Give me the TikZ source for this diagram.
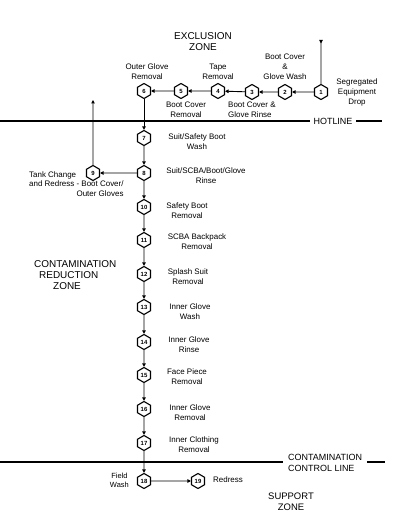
\documentclass[tikz,border=0pt]{standalone}
\usepackage{fontspec}
\setmainfont{Liberation Sans}
\usetikzlibrary{shapes.geometric,arrows.meta}
\begin{document}
\begin{tikzpicture}[x=1bp,y=-1bp,
  hexn/.style={draw,line width=1.1bp,regular polygon,regular polygon sides=6,shape border rotate=30,minimum size=15bp,inner sep=0pt,font=\fontsize{6}{7}\selectfont\bfseries},
  lab/.style={align=center,font=\fontsize{8}{10}\selectfont,inner sep=0pt},
  zone/.style={align=center,font=\fontsize{10}{11}\selectfont,inner sep=0pt},
  flow/.style={line width=0.9bp,-{Triangle[length=3.5bp,width=3.5bp]}},
  bar/.style={line width=1.6bp}]
\useasboundingbox[fill=white] (0,0) rectangle (400,520);
% nodes
\node[hexn] (n1) at (321,92) {1};
\node[hexn] (n2) at (285,92) {2};
\node[hexn] (n3) at (252,92) {3};
\node[hexn] (n4) at (218,91) {4};
\node[hexn] (n5) at (181,91) {5};
\node[hexn] (n6) at (144,91) {6};
\node[hexn] (n7) at (144,138) {7};
\node[hexn] (n8) at (144,173) {8};
\node[hexn] (n9) at (93,173) {9};
\node[hexn] (n10) at (144,207) {10};
\node[hexn] (n11) at (144,240) {11};
\node[hexn] (n12) at (144,274) {12};
\node[hexn] (n13) at (144,307) {13};
\node[hexn] (n14) at (144,342) {14};
\node[hexn] (n15) at (144,375) {15};
\node[hexn] (n16) at (144,409) {16};
\node[hexn] (n17) at (144,443) {17};
\node[hexn] (n18) at (144,481) {18};
\node[hexn] (n19) at (198,481) {19};
\coordinate (entry) at (321,40);
\coordinate (exit9) at (93,100);
% zone lines
\coordinate (hl0) at (0,121);
\coordinate (hl1) at (310,121);
\coordinate (hl2) at (356,121);
\coordinate (hl3) at (382,121);
\coordinate (cl0) at (0,462);
\coordinate (cl1) at (283,462);
\coordinate (cl2) at (367,462);
\coordinate (cl3) at (385,462);
\draw[bar] (hl0) -- (hl1);
\draw[bar] (hl2) -- (hl3);
\draw[bar] (cl0) -- (cl1);
\draw[bar] (cl2) -- (cl3);
% connectors
\draw[line width=0.9bp,{Triangle[reversed,length=3.5bp,width=3.5bp]}-] (entry) -- (n1);
\draw[flow] (n1) -- (n2);
\draw[flow] (n2) -- (n3);
\draw[flow] (n3) -- (n4);
\draw[flow] (n4) -- (n5);
\draw[flow] (n5) -- (n6);
\draw[flow] (n6) -- (n7);
\draw[flow] (n7) -- (n8);
\draw[flow] (n8) -- (n9);
\draw[flow] (n9) -- (exit9);
\draw[flow] (n8) -- (n10);
\draw[flow] (n10) -- (n11);
\draw[flow] (n11) -- (n12);
\draw[flow] (n12) -- (n13);
\draw[flow] (n13) -- (n14);
\draw[flow] (n14) -- (n15);
\draw[flow] (n15) -- (n16);
\draw[flow] (n16) -- (n17);
\draw[flow] (n17) -- (n18);
\draw[flow] (n18) -- (n19);
% labels
\node[zone] (tEx) at (203,41.5) {EXCLUSION\\ZONE};
\node[lab] (t2) at (285,67) {Boot Cover\\\&\\Glove Wash};
\node[lab] (t1) at (357,92) {Segregated\\Equipment\\Drop};
\node[lab] (t4) at (218,72) {Tape\\Removal};
\node[lab] (t6) at (147,72) {Outer Glove\\Removal};
\node[lab] (t5) at (186,110) {Boot Cover\\Removal};
\node[lab,align=left,anchor=west] (t3) at (228,110) {Boot Cover \&\\Glove Rinse};
\node[font=\fontsize{9}{10}\selectfont,inner sep=0pt] (tHot) at (333,121) {HOTLINE};
\node[lab] (t7) at (197,142) {Suit/Safety Boot\\Wash};
\node[lab] (t8) at (206,175.5) {Suit/SCBA/Boot/Glove\\Rinse};
\node[lab,anchor=west] (t9) at (29,185) {\begin{tabular}{@{}l@{}}Tank Change\\and Redress - Boot Cover/\\\multicolumn{1}{@{}r@{}}{Outer Gloves}\end{tabular}};
\node[lab] (t10) at (187,211) {Safety Boot\\Removal};
\node[lab] (t11) at (197,241.5) {SCBA Backpack\\Removal};
\node[lab] (t12) at (188,276.5) {Splash Suit\\Removal};
\node[lab] (t13) at (190,311.5) {Inner Glove\\Wash};
\node[lab] (t14) at (189,345) {Inner Glove\\Rinse};
\node[lab] (t15) at (187,377) {Face Piece\\Removal};
\node[lab] (t16) at (190,413) {Inner Glove\\Removal};
\node[lab] (t17) at (194,445) {Inner Clothing\\Removal};
\node[zone,align=left,anchor=west] (tCR) at (34,275) {CONTAMINATION\\\hspace*{5bp}REDUCTION\\\hspace*{19bp}ZONE};
\node[align=left,anchor=west,font=\fontsize{9}{10.5}\selectfont,inner sep=0pt] (tCL) at (288,463) {CONTAMINATION\\CONTROL LINE};
\node[lab,font=\fontsize{7.5}{9}\selectfont,anchor=east] (t18) at (129,480) {Field\\Wash};
\node[lab,anchor=west] (t19) at (213,480) {Redress};
\node[zone,font=\fontsize{9.5}{11.5}\selectfont] (tSZ) at (291,502) {SUPPORT\\ZONE};
\end{tikzpicture}
\end{document}
